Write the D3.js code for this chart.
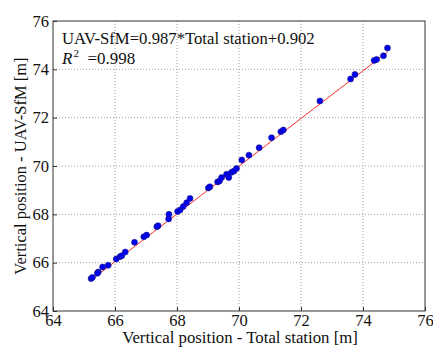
<!DOCTYPE html>
<html>
<head>
<meta charset="utf-8">
<script src="https://cdn.jsdelivr.net/npm/d3@7"></script>
<style>
  body { margin: 0; background: #fff; }
  svg { display: block; font-family: "Liberation Serif", "Times New Roman", serif; }
</style>
</head>
<body>
<svg id="chart" width="433" height="348"></svg>
<script>
// ── Data ──
const totalStation = [
  65.23, 65.27, 65.46, 65.43, 65.60, 65.78, 66.04, 66.16, 66.22, 66.33,
  66.63, 66.93, 67.02, 67.35, 67.39, 67.73, 67.74, 68.02, 68.10, 68.20,
  68.31, 68.42, 69.01, 69.06, 69.31, 69.37, 69.44, 69.60, 69.67, 69.76,
  69.84, 69.92, 70.09, 70.32, 70.65, 71.05, 71.35, 71.43, 72.61, 73.60,
  73.74, 74.36, 74.44, 74.66, 74.79
];
const uavSfm = [
  65.34, 65.39, 65.61, 65.56, 65.82, 65.89, 66.15, 66.25, 66.29, 66.44,
  66.84, 67.07, 67.14, 67.49, 67.53, 67.81, 68.00, 68.12, 68.18, 68.32,
  68.48, 68.66, 69.09, 69.14, 69.34, 69.38, 69.52, 69.66, 69.52, 69.74,
  69.79, 69.90, 70.25, 70.45, 70.76, 71.17, 71.42, 71.49, 72.69, 73.60,
  73.79, 74.37, 74.41, 74.56, 74.88
];
const fitSlope = 0.987, fitIntercept = 0.902;
const xTicks = [64, 66, 68, 70, 72, 74, 76];
const yTicks = [64, 66, 68, 70, 72, 74, 76];

const svg = d3.select('#chart');
const m = { left: 53, top: 21, right: 425, bottom: 311 };

const x = d3.scaleLinear().domain([64, 76]).range([m.left, m.right]);
const y = d3.scaleLinear().domain([64, 76]).range([m.bottom, m.top]);

// Grid
const grid = svg.append('g').attr('stroke', '#a0a0a0').attr('stroke-width', 1)
  .attr('stroke-dasharray', '1,2');
xTicks.slice(1, -1).forEach(t => {
  grid.append('line').attr('x1', x(t)).attr('x2', x(t)).attr('y1', m.top).attr('y2', m.bottom);
});
yTicks.slice(1, -1).forEach(t => {
  grid.append('line').attr('x1', m.left).attr('x2', m.right).attr('y1', y(t)).attr('y2', y(t));
});

// Axes
const xAxis = svg.append('g').attr('transform', `translate(0,${m.bottom})`)
  .call(d3.axisBottom(x).tickValues(xTicks).tickSize(-4).tickPadding(3).tickFormat(d3.format('d')));
const yAxis = svg.append('g').attr('transform', `translate(${m.left},0)`)
  .call(d3.axisLeft(y).tickValues(yTicks).tickSize(-4).tickPadding(4).tickFormat(d3.format('d')));
[xAxis, yAxis].forEach(a => {
  a.select('.domain').remove();
  a.selectAll('line').attr('stroke', '#333');
  a.selectAll('text').attr('font-size', '16.5px').attr('fill', '#111')
    .attr('font-family', '"Liberation Serif", serif');
});

// Frame
svg.append('rect')
  .attr('x', m.left).attr('y', m.top)
  .attr('width', m.right - m.left).attr('height', m.bottom - m.top)
  .attr('fill', 'none').attr('stroke', '#333').attr('stroke-width', 1);

// Fit line
const xMin = d3.min(totalStation), xMax = d3.max(totalStation);
svg.append('line')
  .attr('x1', x(xMin)).attr('y1', y(fitSlope * xMin + fitIntercept))
  .attr('x2', x(xMax)).attr('y2', y(fitSlope * xMax + fitIntercept))
  .attr('stroke', '#ff2a2a').attr('stroke-width', 1);

// Points
svg.append('g').selectAll('circle').data(totalStation).join('circle')
  .attr('cx', d => x(d)).attr('cy', (d, i) => y(uavSfm[i]))
  .attr('r', 3)
  .attr('fill', '#0000f0').attr('stroke', '#1a1a80').attr('stroke-width', 0.6);

// Annotation
svg.append('text').attr('x', 62).attr('y', 44)
  .attr('font-size', '16.7px').attr('fill', '#111')
  .text('UAV-SfM=0.987*Total station+0.902');
const r2 = svg.append('text').attr('x', 62).attr('y', 64)
  .attr('font-size', '17px').attr('fill', '#111');
r2.append('tspan').attr('font-style', 'italic').text('R');
r2.append('tspan').attr('font-size', '11px').attr('dy', '-7').attr('dx', '1').text('2');
r2.append('tspan').attr('dy', '7').text('\u00a0\u00a0=0.998');

// Axis labels
svg.append('text').attr('x', 240).attr('y', 343)
  .attr('text-anchor', 'middle').attr('font-size', '16.8px').attr('fill', '#111')
  .text('Vertical position - Total station [m]');
svg.append('text')
  .attr('transform', `translate(26,${(m.top + m.bottom) / 2}) rotate(-90)`)
  .attr('text-anchor', 'middle').attr('font-size', '16.5px').attr('fill', '#111')
  .text('Vertical position - UAV-SfM [m]');
</script>
</body>
</html>
